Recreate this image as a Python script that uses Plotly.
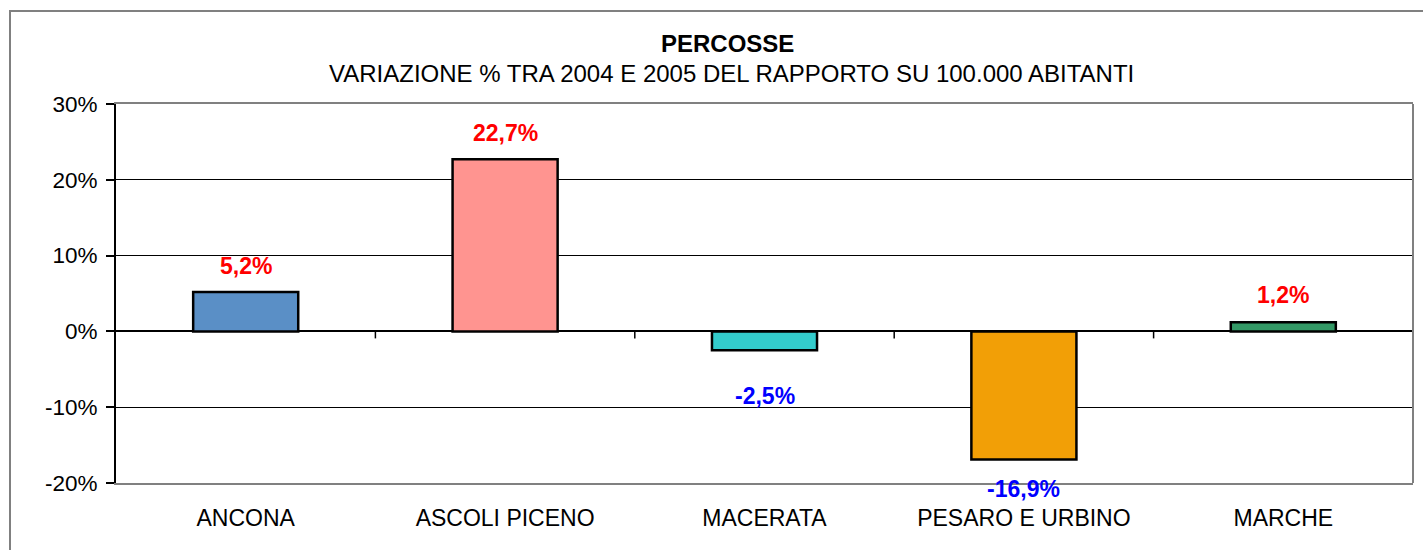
import plotly.graph_objects as go

# ---- data ----
categories = ["ANCONA", "ASCOLI PICENO", "MACERATA", "PESARO E URBINO", "MARCHE"]
values = [5.2, 22.7, -2.5, -16.9, 1.2]  # percent
bar_colors = ["#5A8FC6", "#FF9490", "#33CCCC", "#F29F06", "#339966"]
label_shift = [26, 26, -46, -29, 27]  # px offset of value labels
y_tickvals = [-20, -10, 0, 10, 20, 30]
y_ticktext = ["-20%", "-10%", "0%", "10%", "20%", "30%"]

title_main = "PERCOSSE"
title_sub = "VARIAZIONE % TRA 2004 E 2005 DEL RAPPORTO SU 100.000 ABITANTI"

# ---- layout geometry ----
W, H = 1423, 550
L, R, T, B = 116, 10, 104, 67
pw, ph = W - L - R, H - T - B
FONT = "Liberation Sans, Arial, sans-serif"

def px_x(px):
    return (px - L) / pw

def px_y(py):
    return 1 - (py - T) / ph

fig = go.Figure()
fig.add_trace(go.Bar(
    x=categories, y=values, width=0.405,
    marker=dict(color=bar_colors, line=dict(color="black", width=2.5)),
    hoverinfo="skip", showlegend=False,
))

annotations = []
for c, v, s in zip(categories, values, label_shift):
    txt = f"{v:.1f}%".replace(".", ",")
    annotations.append(dict(
        x=c, y=v, xref="x", yref="y", text=f"<b>{txt}</b>", showarrow=False,
        yshift=s, yanchor="middle",
        font=dict(family=FONT, size=23, color="#FF0000" if v >= 0 else "#0000FF"),
    ))

annotations.append(dict(
    x=px_x(727.5), y=px_y(43), xref="paper", yref="paper", showarrow=False,
    text=f"<b>{title_main}</b>", xanchor="center", yanchor="middle",
    font=dict(family=FONT, size=24, color="black"),
))
annotations.append(dict(
    x=px_x(731), y=px_y(73), xref="paper", yref="paper", showarrow=False,
    text=title_sub, xanchor="center", yanchor="middle",
    font=dict(family=FONT, size=24, color="black"),
))

shapes = []
# category boundary ticks on the zero line
for i in range(len(categories)):
    shapes.append(dict(
        type="line", xref="x", yref="y", ysizemode="pixel", yanchor=0,
        x0=i + 0.5, x1=i + 0.5, y0=0, y1=-7,
        line=dict(color="black", width=1.5), layer="above",
    ))
# right border of plot area
shapes.append(dict(type="line", xref="paper", yref="paper", x0=1, x1=1, y0=0, y1=1,
                   line=dict(color="#808080", width=2), layer="above"))
# outer chart border
shapes.append(dict(type="rect", xref="paper", yref="paper",
                   x0=px_x(10), x1=px_x(1445), y0=px_y(600), y1=px_y(11),
                   line=dict(color="#808080", width=2), layer="above"))

fig.update_layout(
    width=W, height=H,
    margin=dict(l=L, r=R, t=T, b=B, autoexpand=False),
    paper_bgcolor="white", plot_bgcolor="white",
    font=dict(family=FONT, size=22, color="black"),
    annotations=annotations, shapes=shapes,
)
fig.update_xaxes(
    type="category", range=[-0.5, len(categories) - 0.5],
    showline=True, linecolor="#808080", linewidth=2, mirror=True,
    ticks="", showgrid=False, zeroline=False,
    tickfont=dict(family=FONT, size=23, color="black"),
    ticklabelstandoff=13,
)
fig.update_yaxes(
    range=[-20, 30], tickvals=y_tickvals, ticktext=y_ticktext,
    showline=True, linecolor="black", linewidth=2,
    ticks="outside", ticklen=8, tickcolor="black", tickwidth=1.5,
    showgrid=True, gridcolor="black", gridwidth=1,
    zeroline=True, zerolinecolor="black", zerolinewidth=1.5,
    tickfont=dict(family=FONT, size=22.5, color="black"),
    ticklabelstandoff=4,
)

fig.write_html(
    "out.html",
    config={"displayModeBar": False},
    post_script="document.body.style.margin='0';document.body.style.overflow='hidden';",
)
